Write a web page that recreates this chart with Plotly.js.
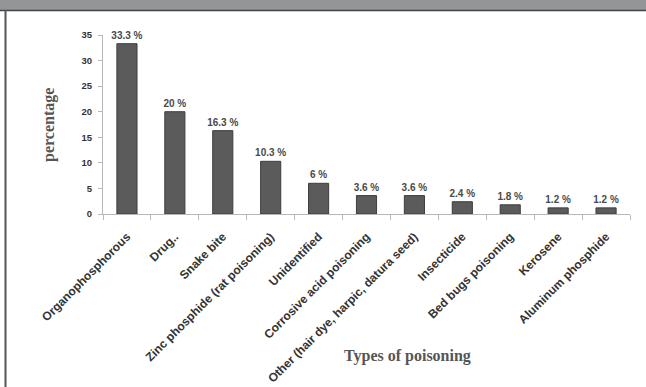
<!DOCTYPE html>
<html>
<head>
<meta charset="utf-8">
<script src="https://cdn.plot.ly/plotly-3.0.1.min.js"></script>
<style>html,body{margin:0;padding:0;background:#fff;}#chart{width:646px;height:387px;}</style>
</head>
<body>
<div id="chart"></div>
<script>
var categories = ["Organophosphorous", "Drug..", "Snake bite", "Zinc phosphide (rat poisoning)", "Unidentified", "Corrosive acid poisoning", "Other (hair dye, harpic, datura seed)", "Insecticide", "Bed bugs poisoning", "Kerosene", "Aluminum phosphide"];
var percentages = [33.3, 20, 16.3, 10.3, 6, 3.6, 3.6, 2.4, 1.8, 1.2, 1.2];
var valueLabels = percentages.map(function (v) { return v + " %"; });
var yTickValues = [0, 5, 10, 15, 20, 25, 30, 35];
var xTitle = "Types of poisoning";
var yTitle = "percentage";

var L = 103, R = 16, T = 35, B = 173, W = 646, H = 387;
var pw = W - L - R, ph = H - T - B;
function px(x) { return (x - L) / pw; }
function py(y) { return (H - B - y) / ph; }

var trace = {
  type: "bar",
  x: categories,
  y: percentages,
  text: valueLabels,
  textposition: "outside",
  constraintext: "none",
  cliponaxis: false,
  textfont: { family: "Liberation Sans, Arial, sans-serif", size: 10, color: "#4a4a4a", weight: "bold" },
  marker: { color: "#5b5b5b", line: { color: "#3d3d3d", width: 1 } },
  width: 0.42,
  hoverinfo: "none"
};

var layout = {
  width: W, height: H,
  margin: { l: L, r: R, t: T, b: B, pad: 0 },
  paper_bgcolor: "#ffffff",
  plot_bgcolor: "#ffffff",
  showlegend: false,
  xaxis: {
    type: "category",
    tickangle: -45,
    tickson: "boundaries",
    ticks: "outside", ticklen: 5, tickcolor: "#b8b8b8",
    ticklabelstandoff: 10,
    showline: true, linecolor: "#b8b8b8", linewidth: 1,
    showgrid: false, zeroline: false,
    tickfont: { family: "Liberation Sans, Arial, sans-serif", size: 12, color: "#333", weight: "bold" }
  },
  yaxis: {
    range: [0, 35],
    tickvals: yTickValues,
    ticks: "outside", ticklen: 4, tickcolor: "#b8b8b8",
    showline: true, linecolor: "#b8b8b8", linewidth: 1,
    showgrid: false, zeroline: false,
    ticklabelstandoff: 4,
    tickfont: { family: "Liberation Sans, Arial, sans-serif", size: 9.5, color: "#333", weight: "bold" }
  },
  shapes: [
    { type: "rect", xref: "paper", yref: "paper", x0: px(-10), x1: px(W + 10), y0: py(10), y1: py(-5), fillcolor: "#939596", line: { width: 0 }, layer: "above" },
    { type: "line", xref: "paper", yref: "paper", x0: px(-10), x1: px(W + 10), y0: py(10.5), y1: py(10.5), line: { color: "#444", width: 1.5 }, layer: "above" },
    { type: "line", xref: "paper", yref: "paper", x0: px(5.5), x1: px(5.5), y0: py(10), y1: py(H + 10), line: { color: "#555", width: 2 }, layer: "above" }
  ],
  annotations: [
    { text: yTitle, xref: "paper", yref: "paper", x: px(49), y: py(125), textangle: -90, showarrow: false, xanchor: "center", yanchor: "middle",
      font: { family: "Liberation Serif, Times New Roman, serif", size: 16, color: "#555", weight: "bold" } },
    { text: xTitle, xref: "paper", yref: "paper", x: px(407), y: py(356), showarrow: false, xanchor: "center", yanchor: "middle",
      font: { family: "Liberation Serif, Times New Roman, serif", size: 16, color: "#555", weight: "bold" } }
  ]
};

Plotly.newPlot("chart", [trace], layout, { staticPlot: true, displayModeBar: false });
</script>
</body>
</html>
